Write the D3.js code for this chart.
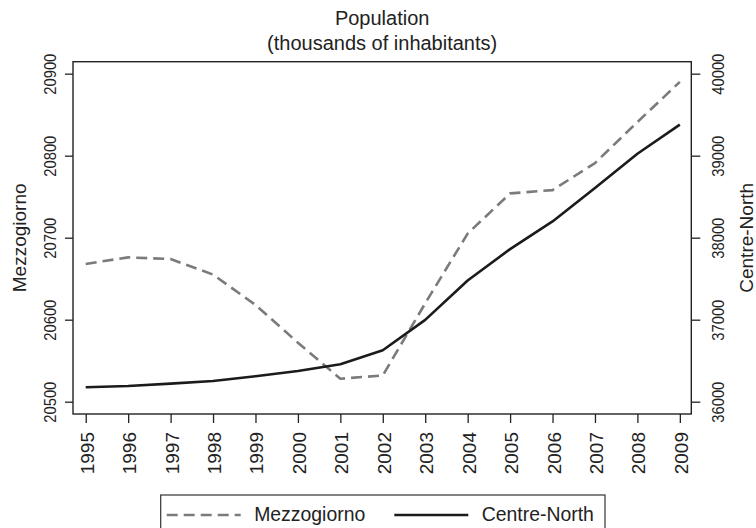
<!doctype html>
<html lang="en">

<head>
  <meta charset="UTF-8">
  <title>Population</title>
  <script type="text/javascript" src="https://cdn.jsdelivr.net/npm/d3@7"></script>
  <style>
    body {
      margin: 0;
      background: #fff;
    }

    svg text {
      font-family: "Liberation Sans", Arial, sans-serif;
      fill: #222;
    }

    .axis path {
      display: none;
    }

    .axis line {
      stroke: #222;
      stroke-width: 1.3px;
    }
  </style>
</head>

<body>

</body>
<script type="text/javascript">
  // data
  var years = [1995, 1996, 1997, 1998, 1999, 2000, 2001, 2002, 2003, 2004, 2005, 2006, 2007, 2008, 2009];
  var mezzogiorno = [20668, 20676, 20674, 20655, 20618, 20572, 20528, 20532, 20620, 20705, 20754, 20758, 20791, 20841, 20890];
  var centreNorth = [36176, 36192, 36220, 36253, 36310, 36375, 36457, 36628, 36998, 37477, 37861, 38198, 38606, 39024, 39378];
  var leftTicks = [20500, 20600, 20700, 20800, 20900];
  var rightTicks = [36000, 37000, 38000, 39000, 40000];
  var titleLines = ["Population", "(thousands of inhabitants)"];

  var width = 756,
    height = 528;

  var box = {
    left: 73,
    right: 691.3,
    top: 61.7,
    bottom: 414
  };

  var xScale = d3.scaleLinear()
    .domain([1994.7, 2009.27])
    .range([box.left, box.right]);

  var yLeft = d3.scaleLinear()
    .domain([20485, 20914.6])
    .range([box.bottom, box.top]);

  // right axis is the left one times ten, shifted
  var yRight = d3.scaleLinear()
    .domain([35850, 40146])
    .range([box.bottom, box.top]);

  var svg = d3.select("body").append("svg")
    .attr("width", width)
    .attr("height", height);

  // title
  svg.selectAll(".title")
    .data(titleLines)
    .enter().append("text")
    .attr("class", "title")
    .attr("x", (box.left + box.right) / 2)
    .attr("y", function(d, i) {
      return 25 + i * 24.5;
    })
    .attr("text-anchor", "middle")
    .attr("font-size", "20px")
    .text(function(d) {
      return d;
    });

  // axes
  var xAxis = d3.axisBottom(xScale)
    .tickValues(years)
    .tickSize(9)
    .tickFormat(d3.format("d"));

  var gx = svg.append("g")
    .attr("class", "x axis")
    .attr("transform", "translate(0," + box.bottom + ")")
    .call(xAxis);

  gx.selectAll("text")
    .attr("transform", "rotate(-90)")
    .attr("x", -18)
    .attr("y", 7.5)
    .attr("dy", null)
    .attr("text-anchor", "end")
    .attr("font-size", "19px")
    .attr("font-family", null);

  var gl = svg.append("g")
    .attr("class", "y axis")
    .attr("transform", "translate(" + box.left + ",0)")
    .call(d3.axisLeft(yLeft).tickValues(leftTicks).tickSize(8).tickFormat(d3.format("d")));

  gl.selectAll("text")
    .attr("transform", "rotate(-90)")
    .attr("x", 0)
    .attr("y", -17)
    .attr("dy", null)
    .attr("text-anchor", "middle")
    .attr("font-size", "17px")
    .attr("font-family", null)
    .attr("textLength", 41)
    .attr("lengthAdjust", "spacingAndGlyphs");

  var gr = svg.append("g")
    .attr("class", "y axis")
    .attr("transform", "translate(" + box.right + ",0)")
    .call(d3.axisRight(yRight).tickValues(rightTicks).tickSize(9).tickFormat(d3.format("d")));

  gr.selectAll("text")
    .attr("transform", "rotate(-90)")
    .attr("x", 0)
    .attr("y", 33)
    .attr("dy", null)
    .attr("text-anchor", "middle")
    .attr("font-size", "17px")
    .attr("font-family", null)
    .attr("textLength", 41)
    .attr("lengthAdjust", "spacingAndGlyphs");

  // axis titles
  svg.append("text")
    .attr("transform", "translate(26," + (box.top + box.bottom) / 2 + ") rotate(-90)")
    .attr("text-anchor", "middle")
    .attr("font-size", "19px")
    .text("Mezzogiorno");

  svg.append("text")
    .attr("transform", "translate(753," + (box.top + box.bottom) / 2 + ") rotate(-90)")
    .attr("text-anchor", "middle")
    .attr("font-size", "19px")
    .text("Centre-North");

  // series
  var lineLeft = d3.line()
    .x(function(d, i) {
      return xScale(years[i]);
    })
    .y(function(d) {
      return yLeft(d);
    });

  var lineRight = d3.line()
    .x(function(d, i) {
      return xScale(years[i]);
    })
    .y(function(d) {
      return yRight(d);
    });

  svg.append("path")
    .datum(mezzogiorno)
    .attr("d", lineLeft)
    .attr("fill", "none")
    .attr("stroke", "#7b7b7b")
    .attr("stroke-width", 2.6)
    .attr("stroke-dasharray", "11,6")
    .attr("stroke-linejoin", "round");

  svg.append("path")
    .datum(centreNorth)
    .attr("d", lineRight)
    .attr("fill", "none")
    .attr("stroke", "#1b1b1b")
    .attr("stroke-width", 2.6)
    .attr("stroke-linejoin", "round");

  // plot frame
  svg.append("rect")
    .attr("x", box.left)
    .attr("y", box.top)
    .attr("width", box.right - box.left)
    .attr("height", box.bottom - box.top)
    .attr("fill", "none")
    .attr("stroke", "#222")
    .attr("stroke-width", 1.4);

  // legend, runs off the bottom edge like in the original
  var legend = svg.append("g");

  legend.append("rect")
    .attr("x", 160.7)
    .attr("y", 495)
    .attr("width", 444.3)
    .attr("height", 60)
    .attr("fill", "none")
    .attr("stroke", "#333")
    .attr("stroke-width", 1.2);

  var legendItems = [{
    name: "Mezzogiorno",
    x: 166.7,
    color: "#7b7b7b",
    dash: "11,6"
  }, {
    name: "Centre-North",
    x: 394.3,
    color: "#1b1b1b",
    dash: null
  }];

  var items = legend.selectAll(".item")
    .data(legendItems)
    .enter().append("g")
    .attr("class", "item");

  items.append("line")
    .attr("x1", function(d) {
      return d.x;
    })
    .attr("x2", function(d) {
      return d.x + 74;
    })
    .attr("y1", 515)
    .attr("y2", 515)
    .attr("stroke", function(d) {
      return d.color;
    })
    .attr("stroke-width", 2.6)
    .attr("stroke-dasharray", function(d) {
      return d.dash;
    });

  items.append("text")
    .attr("x", function(d) {
      return d.x + 87.5;
    })
    .attr("y", 520.5)
    .attr("font-size", "19.4px")
    .text(function(d) {
      return d.name;
    });
</script>

</html>
